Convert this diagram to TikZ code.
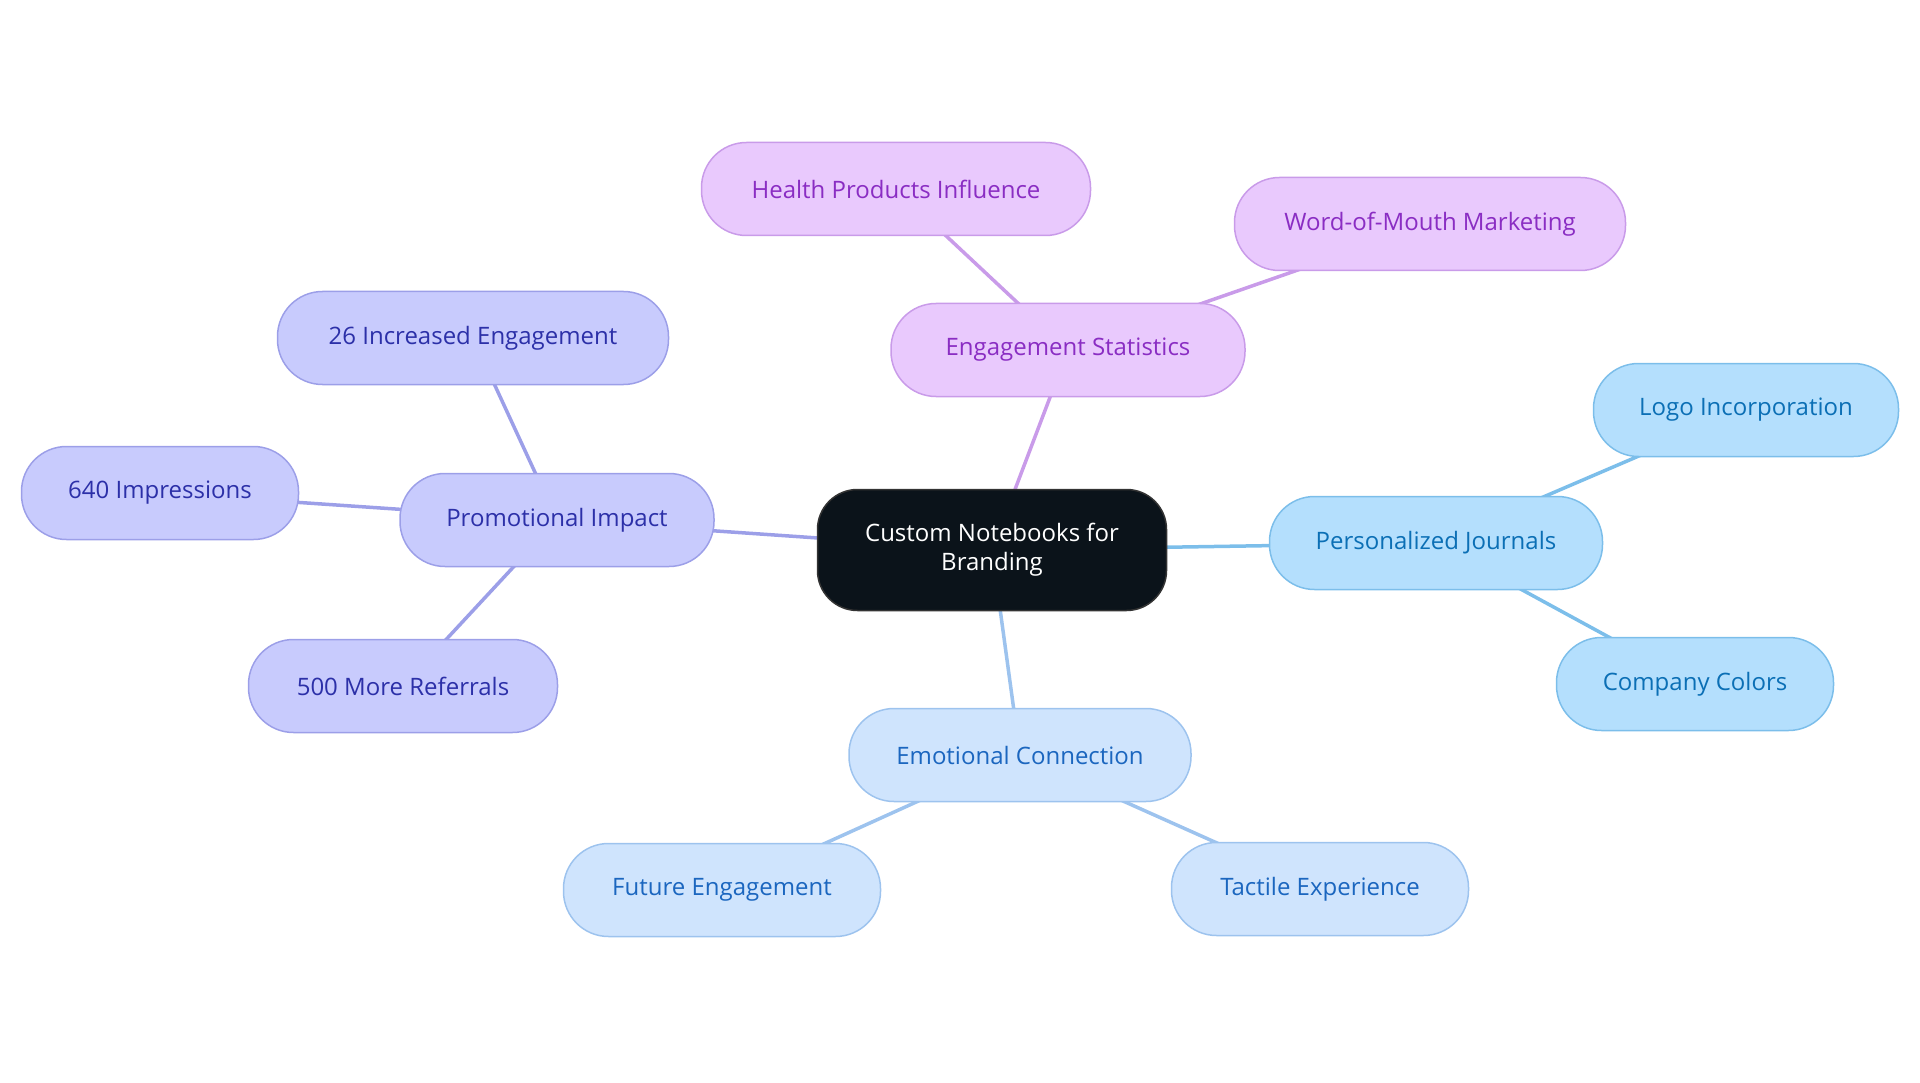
\documentclass[tikz,border=0pt]{standalone}
\usepackage{fontspec}
\setmainfont{Open Sans}
\usetikzlibrary{backgrounds}
\definecolor{rootfill}{HTML}{0B131A}
\definecolor{purpfill}{HTML}{E9C9FD}
\definecolor{purpline}{HTML}{C99BE9}
\definecolor{purptext}{HTML}{8A2DC3}
\definecolor{indfill}{HTML}{C8CBFD}
\definecolor{indline}{HTML}{9C9FE8}
\definecolor{indtext}{HTML}{2C30A8}
\definecolor{skyfill}{HTML}{B4DFFD}
\definecolor{skyline}{HTML}{7CBEEA}
\definecolor{skytext}{HTML}{0B6FB5}
\definecolor{palefill}{HTML}{CFE4FD}
\definecolor{paleline}{HTML}{9DC3EE}
\definecolor{paletext}{HTML}{1B66BF}
\tikzset{
  leaf/.style={draw, line width=1.5pt, rounded corners=45pt, minimum height=93pt,
    font=\fontsize{24}{28}\selectfont},
  purp/.style={leaf, fill=purpfill, draw=purpline, text=purptext},
  ind/.style={leaf, fill=indfill, draw=indline, text=indtext},
  sky/.style={leaf, fill=skyfill, draw=skyline, text=skytext},
  pale/.style={leaf, fill=palefill, draw=paleline, text=paletext},
  link/.style={draw=#1, line width=3.5pt},
}
\begin{document}
\begin{tikzpicture}[x=1pt,y=-1pt]
  \useasboundingbox (0,0) rectangle (1920,1083);
  \node[draw=black!80, line width=1.5pt, fill=rootfill, text=white, rounded corners=40pt,
    minimum width=349pt, minimum height=121pt, align=center,
    font=\fontsize{24}{29}\selectfont] (root) at (992,550) {Custom Notebooks for\\Branding};
  \node[purp, minimum width=354pt] (stats) at (1068,350) {Engagement Statistics};
  \node[purp, minimum width=389pt] (health) at (896,189) {Health Products Influence};
  \node[purp, minimum width=391pt] (mouth) at (1430,224) {Word-of-Mouth Marketing};
  \node[ind, minimum width=314pt] (promo) at (557,520) {Promotional Impact};
  \node[ind, minimum width=391pt] (incr) at (473,338) {26 Increased Engagement};
  \node[ind, minimum width=277pt] (impr) at (160,493) {640 Impressions};
  \node[ind, minimum width=309pt] (refer) at (403,686) {500 More Referrals};
  \node[sky, minimum width=333pt] (journ) at (1436,543) {Personalized Journals};
  \node[sky, minimum width=305pt] (logo) at (1746,410) {Logo Incorporation};
  \node[sky, minimum width=277pt] (colors) at (1695,684) {Company Colors};
  \node[pale, minimum width=342pt] (emot) at (1020,755) {Emotional Connection};
  \node[pale, minimum width=317pt] (future) at (722,890) {Future Engagement};
  \node[pale, minimum width=297pt] (tactile) at (1320,889) {Tactile Experience};
  \begin{pgfonlayer}{background}
    \draw[link=purpline] (root.center) to (stats.center);
    \draw[link=purpline] (stats.center) to (health.center);
    \draw[link=purpline] (stats.center) to (mouth.center);
    \draw[link=indline] (root.center) to (promo.center);
    \draw[link=indline] (promo.center) to (incr.center);
    \draw[link=indline] (promo.center) to (impr.center);
    \draw[link=indline] (promo.center) to (refer.center);
    \draw[link=skyline] (root.center) to (journ.center);
    \draw[link=skyline] (journ.center) to (logo.center);
    \draw[link=skyline] (journ.center) to (colors.center);
    \draw[link=paleline] (root.center) to (emot.center);
    \draw[link=paleline] (emot.center) to (future.center);
    \draw[link=paleline] (emot.center) to (tactile.center);
  \end{pgfonlayer}
\end{tikzpicture}
\end{document}
